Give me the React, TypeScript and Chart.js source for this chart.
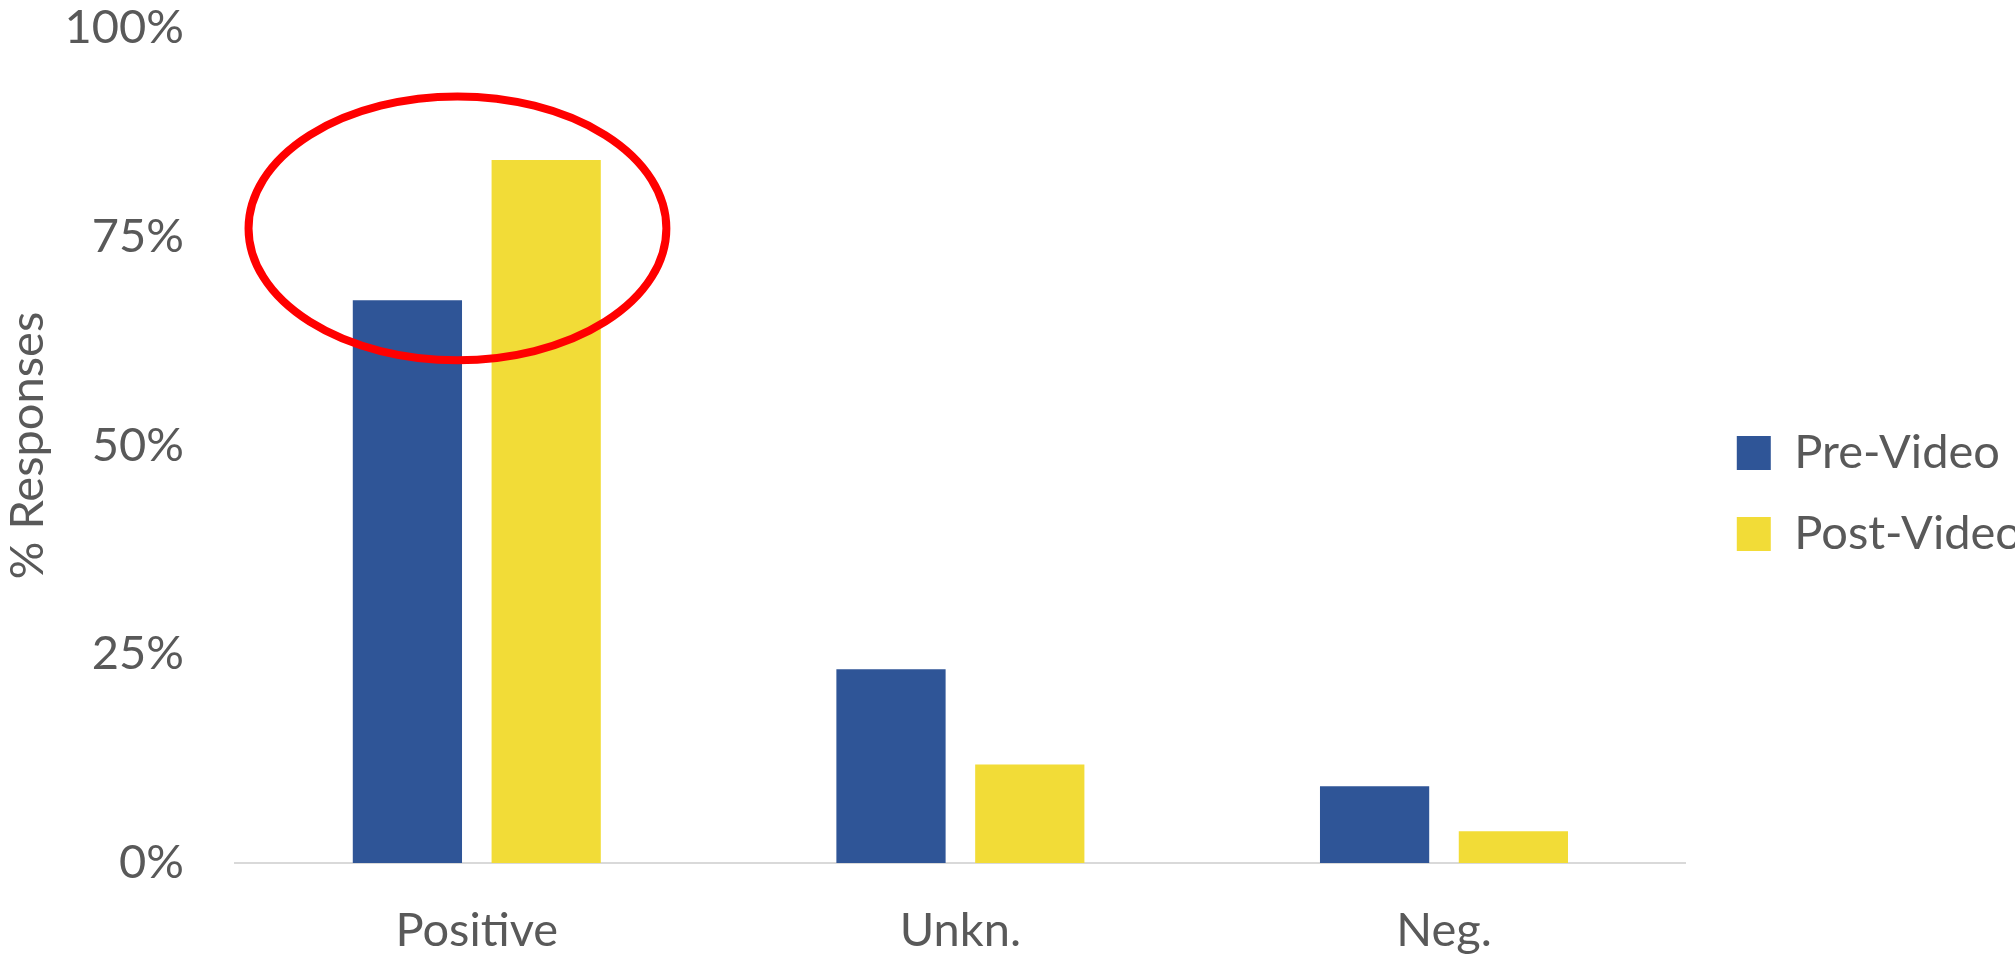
import React, { useEffect, useRef } from "react";
import { Chart, registerables } from "chart.js";

Chart.register(...registerables);

const categories = ["Positive", "Unkn.", "Neg."];
const preVideo = [67.4, 23.2, 9.2];
const postVideo = [84.2, 11.8, 3.8];
const yTicks = [0, 25, 50, 75, 100];
const seriesNames = ["Pre-Video", "Post-Video"];
// highlight ellipse: category index, offset within category, centre value, radii (category fraction, value)
const highlight = { index: 0, offset: -0.04, value: 76, rxCat: 0.432, ryVal: 15.8 };

const FONT = "Lato";
const TEXT = "#595959";

const ellipsePlugin = {
  id: "highlightEllipse",
  afterDatasetsDraw(chart: any) {
    const x = chart.scales.x;
    const y = chart.scales.y;
    const catW = x.width / categories.length;
    const cx = x.getPixelForValue(highlight.index) + highlight.offset * catW;
    const cy = y.getPixelForValue(highlight.value);
    const rx = highlight.rxCat * catW;
    const ry = Math.abs(y.getPixelForValue(highlight.value + highlight.ryVal) - cy);
    const ctx = chart.ctx;
    ctx.save();
    ctx.beginPath();
    ctx.ellipse(cx, cy, rx, ry, 0, 0, Math.PI * 2);
    ctx.strokeStyle = "#FF0000";
    ctx.lineWidth = 8;
    ctx.stroke();
    ctx.restore();
  },
};

const legendShift = {
  id: "legendShift",
  afterLayout(chart: any) {
    if (chart.legend) {
      chart.legend.left += 17;
      chart.legend.right += 17;
    }
  },
};

export default function App() {
  const ref = useRef<HTMLCanvasElement>(null);
  useEffect(() => {
    document.body.style.margin = "0";
    const chart = new Chart(ref.current as HTMLCanvasElement, {
      type: "bar",
      data: {
        labels: categories,
        datasets: [
          { label: seriesNames[0], data: preVideo, backgroundColor: "#2F5597" },
          { label: seriesNames[1], data: postVideo, backgroundColor: "#F2DC37" },
        ],
      },
      options: {
        animation: false,
        responsive: false,
        devicePixelRatio: 1,
        layout: { padding: { top: 28, right: 0, bottom: 0, left: 0 } },
        datasets: { bar: { categoryPercentage: 0.574, barPercentage: 0.787 } },
        plugins: {
          tooltip: { enabled: false },
          legend: {
            position: "right",
            labels: {
              font: { family: FONT, size: 47 },
              color: TEXT,
              boxWidth: 34,
              boxHeight: 34,
              padding: 34,
            },
          },
        },
        scales: {
          x: {
            grid: { display: false },
            border: { display: true, color: "#D9D9D9", width: 2 },
            ticks: { font: { family: FONT, size: 47 }, color: TEXT, padding: 32, maxRotation: 0 },
            afterFit: (s: any) => {
              s.height = 96;
            },
          },
          y: {
            min: 0,
            max: 100,
            afterBuildTicks: (s: any) => {
              s.ticks = yTicks.map((v) => ({ value: v }));
            },
            afterFit: (s: any) => {
              s.width = 235;
              s.paddingTop = 28;
              s.paddingBottom = 0;
            },
            grid: { display: false, drawTicks: false },
            border: { display: false },
            ticks: {
              font: { family: FONT, size: 47 },
              color: TEXT,
              padding: 51,
              callback: (v: any) => v + "%",
            },
            title: {
              display: true,
              text: "% Responses",
              font: { family: FONT, size: 47 },
              color: TEXT,
              padding: { top: 0, bottom: 0 },
            },
          },
        },
      },
      plugins: [ellipsePlugin, legendShift],
    });
    return () => chart.destroy();
  }, []);
  return (
    <div style={{ position: "absolute", left: 0, top: 0, width: 2015, height: 959, background: "#fff" }}>
      <canvas ref={ref} width={2015} height={959} style={{ width: 2015, height: 959 }} />
    </div>
  );
}
